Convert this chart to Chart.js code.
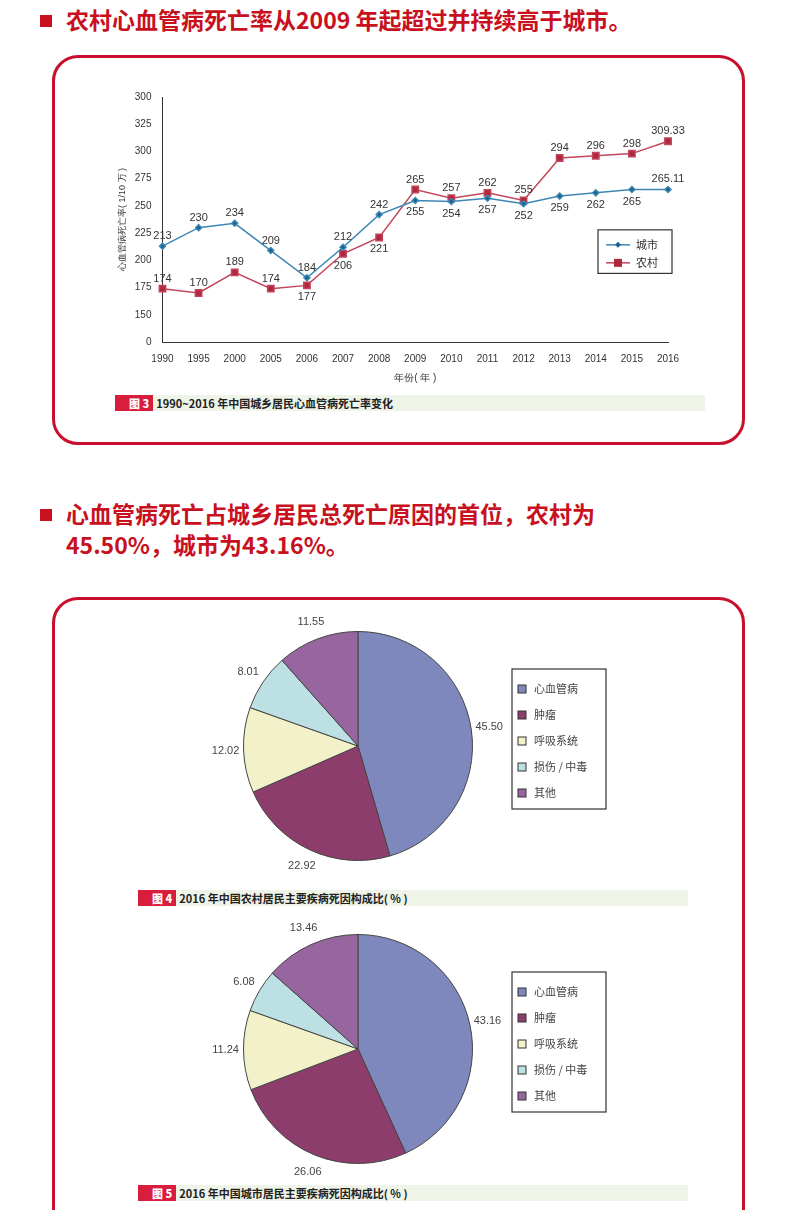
<!DOCTYPE html>
<html><head><meta charset="utf-8">
<script src="https://cdn.jsdelivr.net/npm/chart.js@4"></script>
<style>
body{margin:0;width:805px;height:1210px;background:#fff;position:relative;overflow:hidden;font-family:"Noto Sans CJK SC","Noto Sans",sans-serif}
.h{position:absolute;left:40px;color:#c8101e;font-weight:bold;font-size:23px;line-height:31px}
.h span{display:inline-block;width:12px;height:12px;background:#c8101e;margin-right:14px;vertical-align:2px}
.box{position:absolute;border:3px solid #c8102e;border-radius:26px;background:#fff}
.cap{position:absolute;height:16px;background:#eef4e8;font-size:11px;line-height:16px;color:#222;font-weight:bold}
.cap b{display:inline-block;background:#d81e3c;color:#fff;padding:0 4px 0 14px;margin-right:3px}
canvas{position:absolute}
</style></head><body>
<div class="h" style="top:4px"><span></span>农村心血管病死亡率从2009 年起超过并持续高于城市。</div>
<div class="h" style="top:498px"><span></span>心血管病死亡占城乡居民总死亡原因的首位，农村为<br><span style="visibility:hidden;margin-right:14px"></span>45.50%，城市为43.16%。</div>
<div class="box" style="left:52px;top:55px;width:687px;height:384px"></div>
<div class="box" style="left:52px;top:597px;width:687px;height:640px"></div>
<div class="cap" style="left:115px;top:395px;width:590px"><b>图 3</b>1990~2016 年中国城乡居民心血管病死亡率变化</div>
<div class="cap" style="left:138px;top:890px;width:550px"><b>图 4</b>2016 年中国农村居民主要疾病死因构成比( % )</div>
<div class="cap" style="left:138px;top:1185px;width:550px"><b>图 5</b>2016 年中国城市居民主要疾病死因构成比( % )</div>
<canvas id="line" style="left:100px;top:88px" width="600" height="300"></canvas>
<canvas id="pie1" style="left:130px;top:615px" width="560" height="262"></canvas>
<canvas id="pie2" style="left:130px;top:918px" width="560" height="262"></canvas>
<script>
const years = ['1990','1995','2000','2005','2006','2007','2008','2009','2010','2011','2012','2013','2014','2015','2016']
const city = [213,230,234,209,184,212,242,255,254,257,252,259,262,265,265.11]
const rural = [174,170,189,174,177,206,221,265,257,262,255,294,296,298,309.33]
const cityPos = 'aaaaaaabbbbbbba'
const ruralPos = 'aaaabbbaaaaaaaa'
const causes = ['心血管病','肿瘤','呼吸系统','损伤 / 中毒','其他']
const rural2016 = [45.50,22.92,12.02,8.01,11.55]
const city2016 = [43.16,26.06,11.24,6.08,13.46]
const pieColors = ['#7f88bd','#8c3d6c','#f3f1c9','#bde0e4','#97669f']

const lineLabels = {
  id: 'lineLabels',
  afterDatasetsDraw(chart) {
    const ctx = chart.ctx
    ctx.save()
    ctx.font = '11px "Liberation Sans", sans-serif'
    ctx.fillStyle = '#333'
    ctx.textAlign = 'center'
    chart.data.datasets.forEach((ds, i) => {
      const pos = i === 0 ? cityPos : ruralPos
      chart.getDatasetMeta(i).data.forEach((pt, j) => {
        ctx.fillText(String(ds.data[j]), pt.x, pos[j] === 'a' ? pt.y - 7 : pt.y + 15)
      })
    })
    // legend box
    const y = chart.scales.y, right = chart.chartArea.right + 4
    const top = y.getPixelForValue(228), bottom = y.getPixelForValue(188)
    ctx.strokeStyle = '#333'
    ctx.lineWidth = 1.2
    ctx.strokeRect(right - 74, top, 74, bottom - top)
    ctx.textAlign = 'left'
    ctx.textBaseline = 'middle'
    ctx.font = '11px "Noto Sans CJK SC", sans-serif'
    chart.data.datasets.forEach((ds, i) => {
      const cy = top + 15 + i * 18, x0 = right - 66
      ctx.strokeStyle = ds.borderColor
      ctx.lineWidth = 1.5
      ctx.beginPath(); ctx.moveTo(x0, cy); ctx.lineTo(x0 + 24, cy); ctx.stroke()
      ctx.fillStyle = ds.backgroundColor
      if (i === 0) {
        ctx.beginPath(); ctx.moveTo(x0 + 12, cy - 3); ctx.lineTo(x0 + 15, cy); ctx.lineTo(x0 + 12, cy + 3); ctx.lineTo(x0 + 9, cy); ctx.fill()
      } else ctx.fillRect(x0 + 8, cy - 4, 8, 8)
      ctx.fillStyle = '#333'
      ctx.fillText(ds.label, x0 + 30, cy)
    })
    ctx.restore()
  }
}

new Chart(document.getElementById('line'), {
  type: 'line',
  data: {
    labels: years,
    datasets: [
      {label: '城市', data: city, borderColor: '#3b87b5', backgroundColor: '#1f5f8c', pointStyle: 'rectRot', pointRadius: 3, borderWidth: 1.5},
      {label: '农村', data: rural, borderColor: '#c0455a', backgroundColor: '#b0283d', pointStyle: 'rect', pointRadius: 4.5, borderWidth: 1.5}
    ]
  },
  options: {
    responsive: false, animation: false,
    layout: {padding: {left: 13, right: 32, top: 9}},
    plugins: {legend: {display: false}, tooltip: {enabled: false}},
    scales: {
      x: {grid: {display: false}, border: {color: '#333'}, ticks: {color: '#333', font: {size: 10}},
          title: {display: true, text: '年份( 年 )', font: {size: 10}, color: '#333'}},
      y: {min: 125, max: 350, grid: {display: false}, border: {color: '#333'},
          ticks: {stepSize: 25, color: '#333', font: {size: 10}, callback: v => v === 125 ? '0' : v === 350 ? '300' : v},
          title: {display: true, text: '心血管病死亡率( 1/10 万 )', font: {size: 9}, color: '#333'}}
    }
  },
  plugins: [lineLabels]
})

const pieExtras = {
  id: 'pieExtras',
  afterDatasetsDraw(chart) {
    const ctx = chart.ctx
    const arcs = chart.getDatasetMeta(0).data
    ctx.save()
    ctx.font = '11px "Liberation Sans", sans-serif'
    ctx.fillStyle = '#444'
    ctx.textAlign = 'center'
    ctx.textBaseline = 'middle'
    arcs.forEach((arc, j) => {
      const a = (arc.startAngle + arc.endAngle) / 2
      const r = arc.outerRadius + 18
      ctx.fillText(chart.data.datasets[0].data[j].toFixed(2), arc.x + Math.cos(a) * r, arc.y + Math.sin(a) * r)
    })
    // legend
    const bx = arcs[0].x + 154, by = arcs[0].y - 77
    ctx.strokeStyle = '#333'
    ctx.lineWidth = 1.2
    ctx.strokeRect(bx, by, 94, 140)
    ctx.textAlign = 'left'
    ctx.font = '11px "Noto Sans CJK SC", sans-serif'
    chart.data.labels.forEach((lab, j) => {
      const cy = by + 20 + j * 26
      ctx.fillStyle = pieColors[j]
      ctx.fillRect(bx + 6, cy - 4, 8, 8)
      ctx.strokeStyle = '#333'
      ctx.lineWidth = 1
      ctx.strokeRect(bx + 6, cy - 4, 8, 8)
      ctx.fillStyle = '#444'
      ctx.fillText(lab, bx + 22, cy)
    })
    ctx.restore()
  }
}

function makePie(id, values) {
  new Chart(document.getElementById(id), {
    type: 'pie',
    data: {labels: causes, datasets: [{data: values, backgroundColor: pieColors, borderColor: '#444', borderWidth: 1}]},
    options: {
      responsive: false, animation: false,
      layout: {padding: {left: 113, top: 16, bottom: 16, right: 217}},
      plugins: {legend: {display: false}, tooltip: {enabled: false}}
    },
    plugins: [pieExtras]
  })
}
makePie('pie1', rural2016)
makePie('pie2', city2016)
</script>
</body></html>
